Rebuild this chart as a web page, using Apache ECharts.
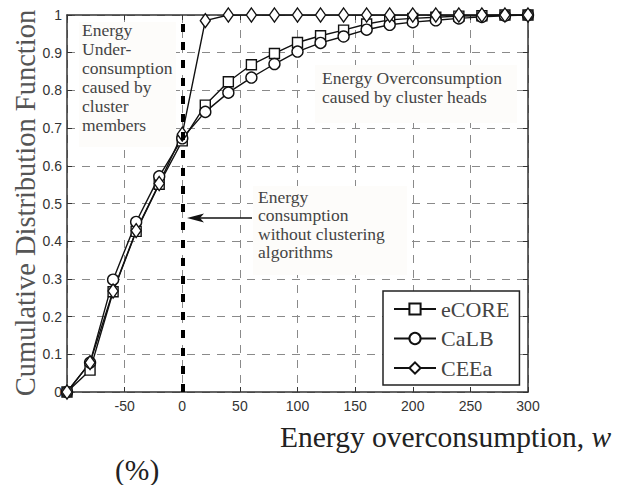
<!DOCTYPE html>
<html>
<head>
<meta charset="utf-8">
<script src="https://cdn.jsdelivr.net/npm/echarts@6/dist/echarts.min.js"></script>
<style>
  html, body { margin: 0; padding: 0; background: #fff; }
  #main { width: 628px; height: 485px; }
</style>
</head>
<body>
<div id="main"></div>
<script>
// energy overconsumption w (%) at which the CDF was sampled
var wValues = [-100, -80, -60, -40, -20, 0, 20, 40, 60, 80, 100, 120, 140, 160, 180, 200, 220, 240, 260, 280, 300];
var eCORE = [0, 0.058, 0.266, 0.426, 0.551, 0.666, 0.761, 0.823, 0.868, 0.898, 0.927, 0.945, 0.960, 0.976, 0.987, 0.991, 0.994, 0.997, 0.998, 1, 1];
var CaLB  = [0, 0.078, 0.298, 0.451, 0.572, 0.673, 0.743, 0.794, 0.834, 0.870, 0.903, 0.926, 0.943, 0.961, 0.974, 0.981, 0.986, 0.991, 0.995, 0.998, 1];
var CEEa  = [0, 0.078, 0.268, 0.428, 0.553, 0.684, 0.985, 1, 1, 1, 1, 1, 1, 1, 1, 1, 1, 1, 1, 1, 1];
// axis tick labels shown (no label at -100)
var xTickLabels = [-50, 0, 50, 100, 150, 200, 250, 300];
var yTickLabels = ['0', '0.1', '0.2', '0.3', '0.4', '0.5', '0.6', '0.7', '0.8', '0.9', '1'];

var serif = '"Liberation Serif", "DejaVu Serif", serif';
var sans = '"Liberation Sans", Arial, sans-serif';

function pairs(arr) {
  return arr.map(function (v, i) { return [wValues[i], v]; });
}

var myChart = echarts.init(document.getElementById('main'), null, { renderer: 'svg' });

var tickStyle = { show: true, inside: true, length: 5, lineStyle: { color: '#333', width: 1 } };
var lineStyleAxis = { show: true, onZero: false, lineStyle: { color: '#333', width: 1.5 } };

function mkSeries(name, data, symbol, size) {
  return {
    name: name,
    type: 'line',
    data: pairs(data),
    symbol: symbol,
    symbolSize: size,
    showSymbol: true,
    showAllSymbol: true,
    lineStyle: { color: '#111', width: 1.4 },
    itemStyle: { color: '#fff', borderColor: '#111', borderWidth: 1.4 },
    emphasis: { disabled: true },
    animation: false
  };
}

var series = [
  mkSeries('eCORE', eCORE, 'rect', 10),
  mkSeries('CaLB', CaLB, 'circle', 11),
  mkSeries('CEEa', CEEa, 'diamond', [10, 14])
];
// thick dashed reference line at w = 0
series[0].markLine = {
  silent: true,
  symbol: ['none', 'none'],
  label: { show: false },
  lineStyle: { color: '#000', width: 4, type: [8, 10] },
  data: [{ xAxis: 0 }]
};

var option = {
  backgroundColor: '#fff',
  animation: false,
  grid: {
    left: 67, right: 100, top: 15, bottom: 93,
    containLabel: false,
    outerBoundsMode: 'none'
  },
  legend: {
    orient: 'vertical',
    left: 383, top: 291,
    padding: [7, 10, 6, 10],
    itemGap: 7.5,
    itemWidth: 42,
    itemHeight: 14,
    backgroundColor: '#fff',
    borderColor: '#222',
    borderWidth: 1.5,
    borderRadius: 0,
    textStyle: { fontFamily: serif, fontSize: 22, color: '#444', lineHeight: 22 },
    data: ['eCORE', 'CaLB', 'CEEa']
  },
  xAxis: [{
    type: 'value', min: -100, max: 300, interval: 50,
    axisLine: lineStyleAxis,
    axisTick: tickStyle,
    axisLabel: {
      margin: 7, fontFamily: sans, fontSize: 14, color: '#333',
      formatter: function (v) { return xTickLabels.indexOf(v) >= 0 ? String(v) : ''; }
    },
    splitLine: { show: true, lineStyle: { color: '#8a8a8a', width: 1, type: [8, 7] } }
  }, {
    type: 'value', min: -100, max: 300, interval: 50, position: 'top',
    axisLine: lineStyleAxis, axisTick: tickStyle,
    axisLabel: { show: false }, splitLine: { show: false }
  }],
  yAxis: [{
    type: 'value', min: 0, max: 1, interval: 0.1,
    axisLine: lineStyleAxis,
    axisTick: tickStyle,
    axisLabel: {
      margin: 5, fontFamily: sans, fontSize: 14, color: '#333',
      formatter: function (v) { return yTickLabels[Math.round(v * 10)]; }
    },
    splitLine: { show: true, lineStyle: { color: '#8a8a8a', width: 1, type: [8, 7] } }
  }, {
    type: 'value', min: 0, max: 1, interval: 0.1, position: 'right',
    axisLine: lineStyleAxis, axisTick: tickStyle,
    axisLabel: { show: false }, splitLine: { show: false }
  }],
  graphic: [
    // annotation boxes
    { type: 'rect', z: 1, shape: { x: 79, y: 22, width: 97, height: 125 }, style: { fill: '#fdfcfa' } },
    { type: 'rect', z: 1, shape: { x: 315, y: 65, width: 202, height: 58 }, style: { fill: '#fdfcfa' } },
    { type: 'rect', z: 1, shape: { x: 253, y: 186, width: 154, height: 89 }, style: { fill: '#fdfcfa' } },
    { type: 'text', z: 2, x: 82, y: 20.5, style: {
      text: 'Energy\nUnder-\nconsumption\ncaused by\ncluster\nmembers',
      fontFamily: serif, fontSize: 17.5, lineHeight: 19, fill: '#444', verticalAlign: 'top' } },
    { type: 'text', z: 2, x: 322, y: 68, style: {
      text: 'Energy Overconsumption\ncaused by cluster heads',
      fontFamily: serif, fontSize: 17.5, lineHeight: 19, fill: '#444', verticalAlign: 'top' } },
    { type: 'text', z: 2, x: 258, y: 187.5, style: {
      text: 'Energy\nconsumption\nwithout clustering\nalgorithms',
      fontFamily: serif, fontSize: 17.5, lineHeight: 18.5, fill: '#444', verticalAlign: 'top' } },
    // arrow pointing at the w = 0 line
    { type: 'line', z: 2, shape: { x1: 252, y1: 218, x2: 198, y2: 218 }, style: { stroke: '#111', lineWidth: 1.3 } },
    { type: 'polygon', z: 2, shape: { points: [[187, 218], [204, 213.5], [200, 218], [204, 222.5]] }, style: { fill: '#111' } },
    // axis titles
    { type: 'text', z: 2, x: 25, y: 203, rotation: Math.PI / 2, style: {
      text: 'Cumulative Distribution Function',
      fontFamily: serif, fontSize: 28.5, fill: '#555', align: 'center', verticalAlign: 'middle' } },
    { type: 'text', z: 2, x: 280, y: 437, style: {
      text: 'Energy overconsumption, {i|w}',
      fontFamily: serif, fontSize: 29.5, fill: '#222', verticalAlign: 'middle',
      rich: { i: { fontFamily: serif, fontSize: 29.5, fontStyle: 'italic', fill: '#222' } } } },
    { type: 'text', z: 2, x: 115, y: 470, style: {
      text: '(%)', fontFamily: serif, fontSize: 29.5, fill: '#222', verticalAlign: 'middle' } }
  ],
  series: series
};

option && myChart.setOption(option);
</script>
</body>
</html>
